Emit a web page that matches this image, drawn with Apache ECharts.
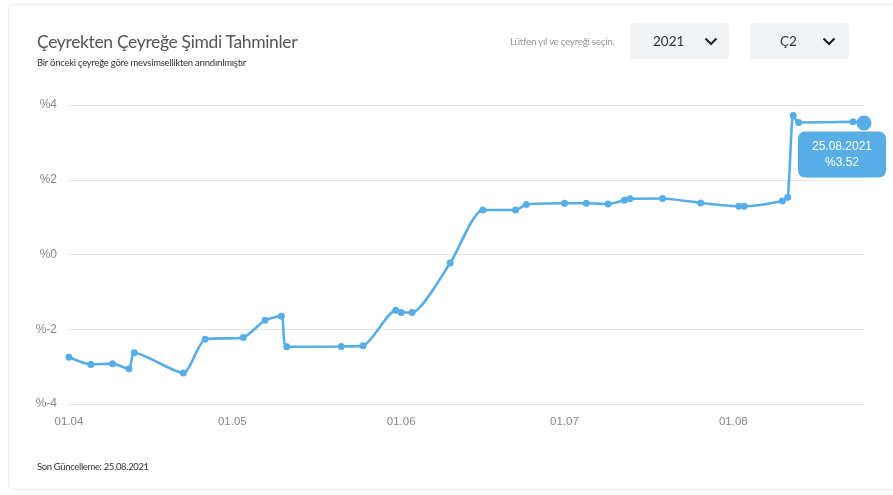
<!DOCTYPE html>
<html>
<head>
<meta charset="utf-8">
<script src="https://cdn.jsdelivr.net/npm/echarts@6/dist/echarts.min.js"></script>
<style>
  html, body { margin: 0; padding: 0; background: #fff; width: 893px; height: 495px; overflow: hidden; font-family: Lato, "Open Sans", sans-serif; }
  #card { position: absolute; left: 8px; top: 4px; width: 900px; height: 486px; border: 1px solid #ececec; border-radius: 6px; box-sizing: border-box; }
  #chart { position: absolute; left: 0; top: 0; width: 893px; height: 495px; }
  .t { position: absolute; white-space: nowrap; }
  #title { left: 37px; top: 31px; font-size: 17.5px; color: #555; letter-spacing: -0.35px; }
  #sub { left: 37px; top: 57px; font-size: 9.5px; color: #333; letter-spacing: -0.25px; }
  #hint { left: 510px; top: 35px; font-size: 10px; color: #999; letter-spacing: -0.35px; }
  .dd { position: absolute; top: 23px; width: 99px; height: 36px; background: #f1f4f7; border-radius: 4px; }
  .dd span { position: absolute; top: 10px; font-size: 13.5px; color: #333; }
  .dd svg { position: absolute; top: 14px; }
  #foot { left: 37px; top: 461px; font-size: 9.5px; color: #333; letter-spacing: -0.35px; }
</style>
</head>
<body>
<div id="card"></div>
<div id="chart"></div>
<div class="t" id="title">Çeyrekten Çeyreğe Şimdi Tahminler</div>
<div class="t" id="sub">Bir önceki çeyreğe göre mevsimsellikten arındırılmıştır</div>
<div class="t" id="hint">Lütfen yıl ve çeyreği seçin.</div>
<div class="dd" style="left:630px"><span style="left:23px">2021</span><svg style="left:74px" width="14" height="9" viewBox="0 0 14 9"><polyline points="1.5,1.5 7,7 12.5,1.5" fill="none" stroke="#222" stroke-width="2.2"/></svg></div>
<div class="dd" style="left:750px"><span style="left:30px">Ç2</span><svg style="left:72px" width="14" height="9" viewBox="0 0 14 9"><polyline points="1.5,1.5 7,7 12.5,1.5" fill="none" stroke="#222" stroke-width="2.2"/></svg></div>
<div class="t" id="foot">Son Güncelleme: 25.08.2021</div>
<script>
var dates = ['2021-04-01','2021-04-05','2021-04-09','2021-04-12','2021-04-13','2021-04-22','2021-04-26',
  '2021-05-03','2021-05-07','2021-05-10','2021-05-11','2021-05-21','2021-05-25','2021-05-31',
  '2021-06-01','2021-06-03','2021-06-10','2021-06-16','2021-06-22','2021-06-24',
  '2021-07-01','2021-07-05','2021-07-09','2021-07-12','2021-07-13','2021-07-19','2021-07-26',
  '2021-08-02','2021-08-03','2021-08-10','2021-08-11','2021-08-12','2021-08-13','2021-08-23','2021-08-25'];
var values = [-2.75,-2.94,-2.92,-3.06,-2.63,-3.17,-2.27,
  -2.22,-1.76,-1.65,-2.47,-2.46,-2.44,-1.49,
  -1.55,-1.55,-0.23,1.19,1.19,1.34,
  1.37,1.37,1.35,1.45,1.49,1.50,1.38,
  1.29,1.29,1.43,1.53,3.72,3.53,3.55,3.52];
var xTicks = ['2021-04-01','2021-05-01','2021-06-01','2021-07-01','2021-08-01'];
var yTicks = [-4,-2,0,2,4];

var color = '#57aee6';
function ts(d) { return echarts.time.parse(d).getTime(); }
function fmtDate(v) { return echarts.time.format(v, '{dd}.{MM}', false); }

var data = dates.map(function (d, i) {
  var item = { value: [ts(d), values[i]] };
  if (i === dates.length - 1) {
    item.symbolSize = 15;
    item.label = {
      show: true,
      position: 'bottom',
      offset: [-22, -4],
      formatter: function (p) {
        return echarts.time.format(p.value[0], '{dd}.{MM}.{yyyy}', false) + '\n%' + p.value[1].toFixed(2);
      },
      backgroundColor: color,
      borderRadius: 7,
      padding: [7, 14, 7, 14],
      color: '#fff',
      fontSize: 12,
      lineHeight: 16,
      align: 'center',
      fontFamily: 'Liberation Sans, Arial, sans-serif'
    };
  }
  return item;
});

var chart = echarts.init(document.getElementById('chart'), null, { renderer: 'canvas' });
chart.setOption({
  animation: false,
  grid: { left: 69, right: 29, top: 105, bottom: 91 },
  xAxis: {
    type: 'value',
    min: ts(dates[0]),
    max: ts(dates[dates.length - 1]),
    axisLine: { show: false },
    axisTick: { show: false },
    splitLine: { show: false },
    axisLabel: {
      customValues: xTicks.map(ts),
      formatter: function (v) { return fmtDate(v); },
      color: '#888',
      fontSize: 11.5,
      margin: 12,
      fontFamily: 'Liberation Sans, Arial, sans-serif',
      hideOverlap: false
    }
  },
  yAxis: {
    type: 'value',
    min: yTicks[0],
    max: yTicks[yTicks.length - 1],
    interval: 2,
    axisLine: { show: false },
    axisTick: { show: false },
    splitLine: { lineStyle: { color: '#e4e4e4', width: 1.2 } },
    axisLabel: {
      formatter: function (v) { return '%' + v; },
      color: '#888',
      fontSize: 12,
      margin: 12,
      fontFamily: 'Liberation Sans, Arial, sans-serif'
    }
  },
  series: [{
    type: 'line',
    data: data,
    smooth: 0.22,
    symbol: 'circle',
    symbolSize: 7,
    showAllSymbol: true,
    lineStyle: { color: color, width: 2.6 },
    itemStyle: { color: color }
  }]
});
</script>
</body>
</html>
